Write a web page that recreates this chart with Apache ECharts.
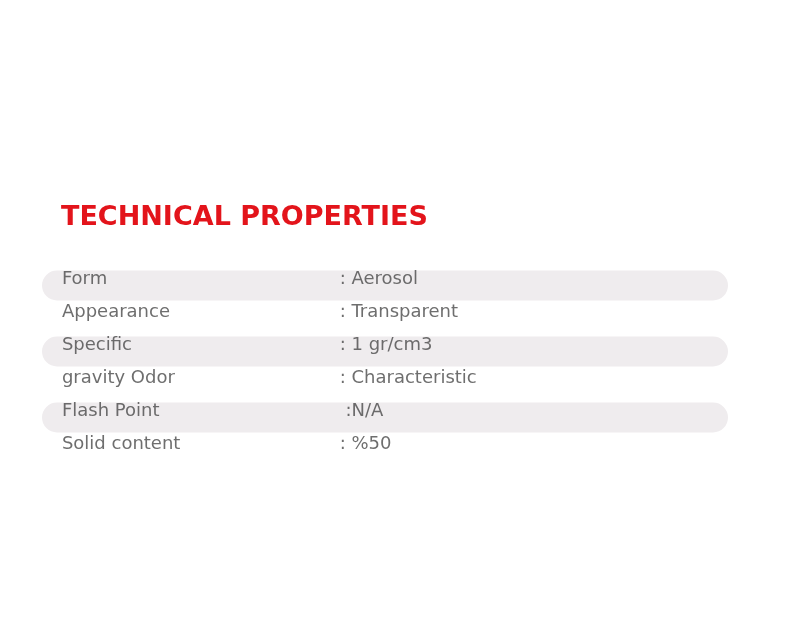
<!DOCTYPE html>
<html><head><meta charset="utf-8">
<script src="https://cdn.jsdelivr.net/npm/echarts@6/dist/echarts.min.js"></script>
<style>html,body{margin:0;background:#fff}#c{width:800px;height:640px}</style>
</head><body><div id="c"></div>
<script>
const titleText = 'TECHNICAL PROPERTIES';
const properties = ['Form','Appearance','Specific','gravity Odor','Flash Point','Solid content'];
const values = [': Aerosol',': Transparent',': 1 gr/cm3',': Characteristic',' :N/A',': %50'];
const striped = [1,0,1,0,1,0];

const chart = echarts.init(document.getElementById('c'));
const font = '"DejaVu Sans", sans-serif';
const lbl = (arr)=>({show:true,position:'right',distance:0,offset:[0,-6],formatter:p=>arr[p.dataIndex],color:'#4a4a4a',fontSize:18,fontFamily:font});
chart.setOption({
  animation:false,
  title:{text:titleText,left:56,top:199,textStyle:{color:'#e3141b',fontSize:27,fontWeight:'bold',fontFamily:font}},
  grid:{left:42,right:72,top:269,bottom:173},
  xAxis:{type:'value',min:0,max:1,show:false},
  yAxis:{type:'category',data:properties,inverse:true,show:false},
  series:[
    {type:'bar',data:striped.map(s=>s?1:'-'),barWidth:30,silent:true,
     itemStyle:{color:'#efecee',borderRadius:15}},
    {type:'scatter',symbolSize:0,data:properties.map((p,i)=>[0.029,i]),label:lbl(properties)},
    {type:'scatter',symbolSize:0,data:values.map((v,i)=>[0.434,i]),label:lbl(values)}
  ]
});
</script></body></html>
